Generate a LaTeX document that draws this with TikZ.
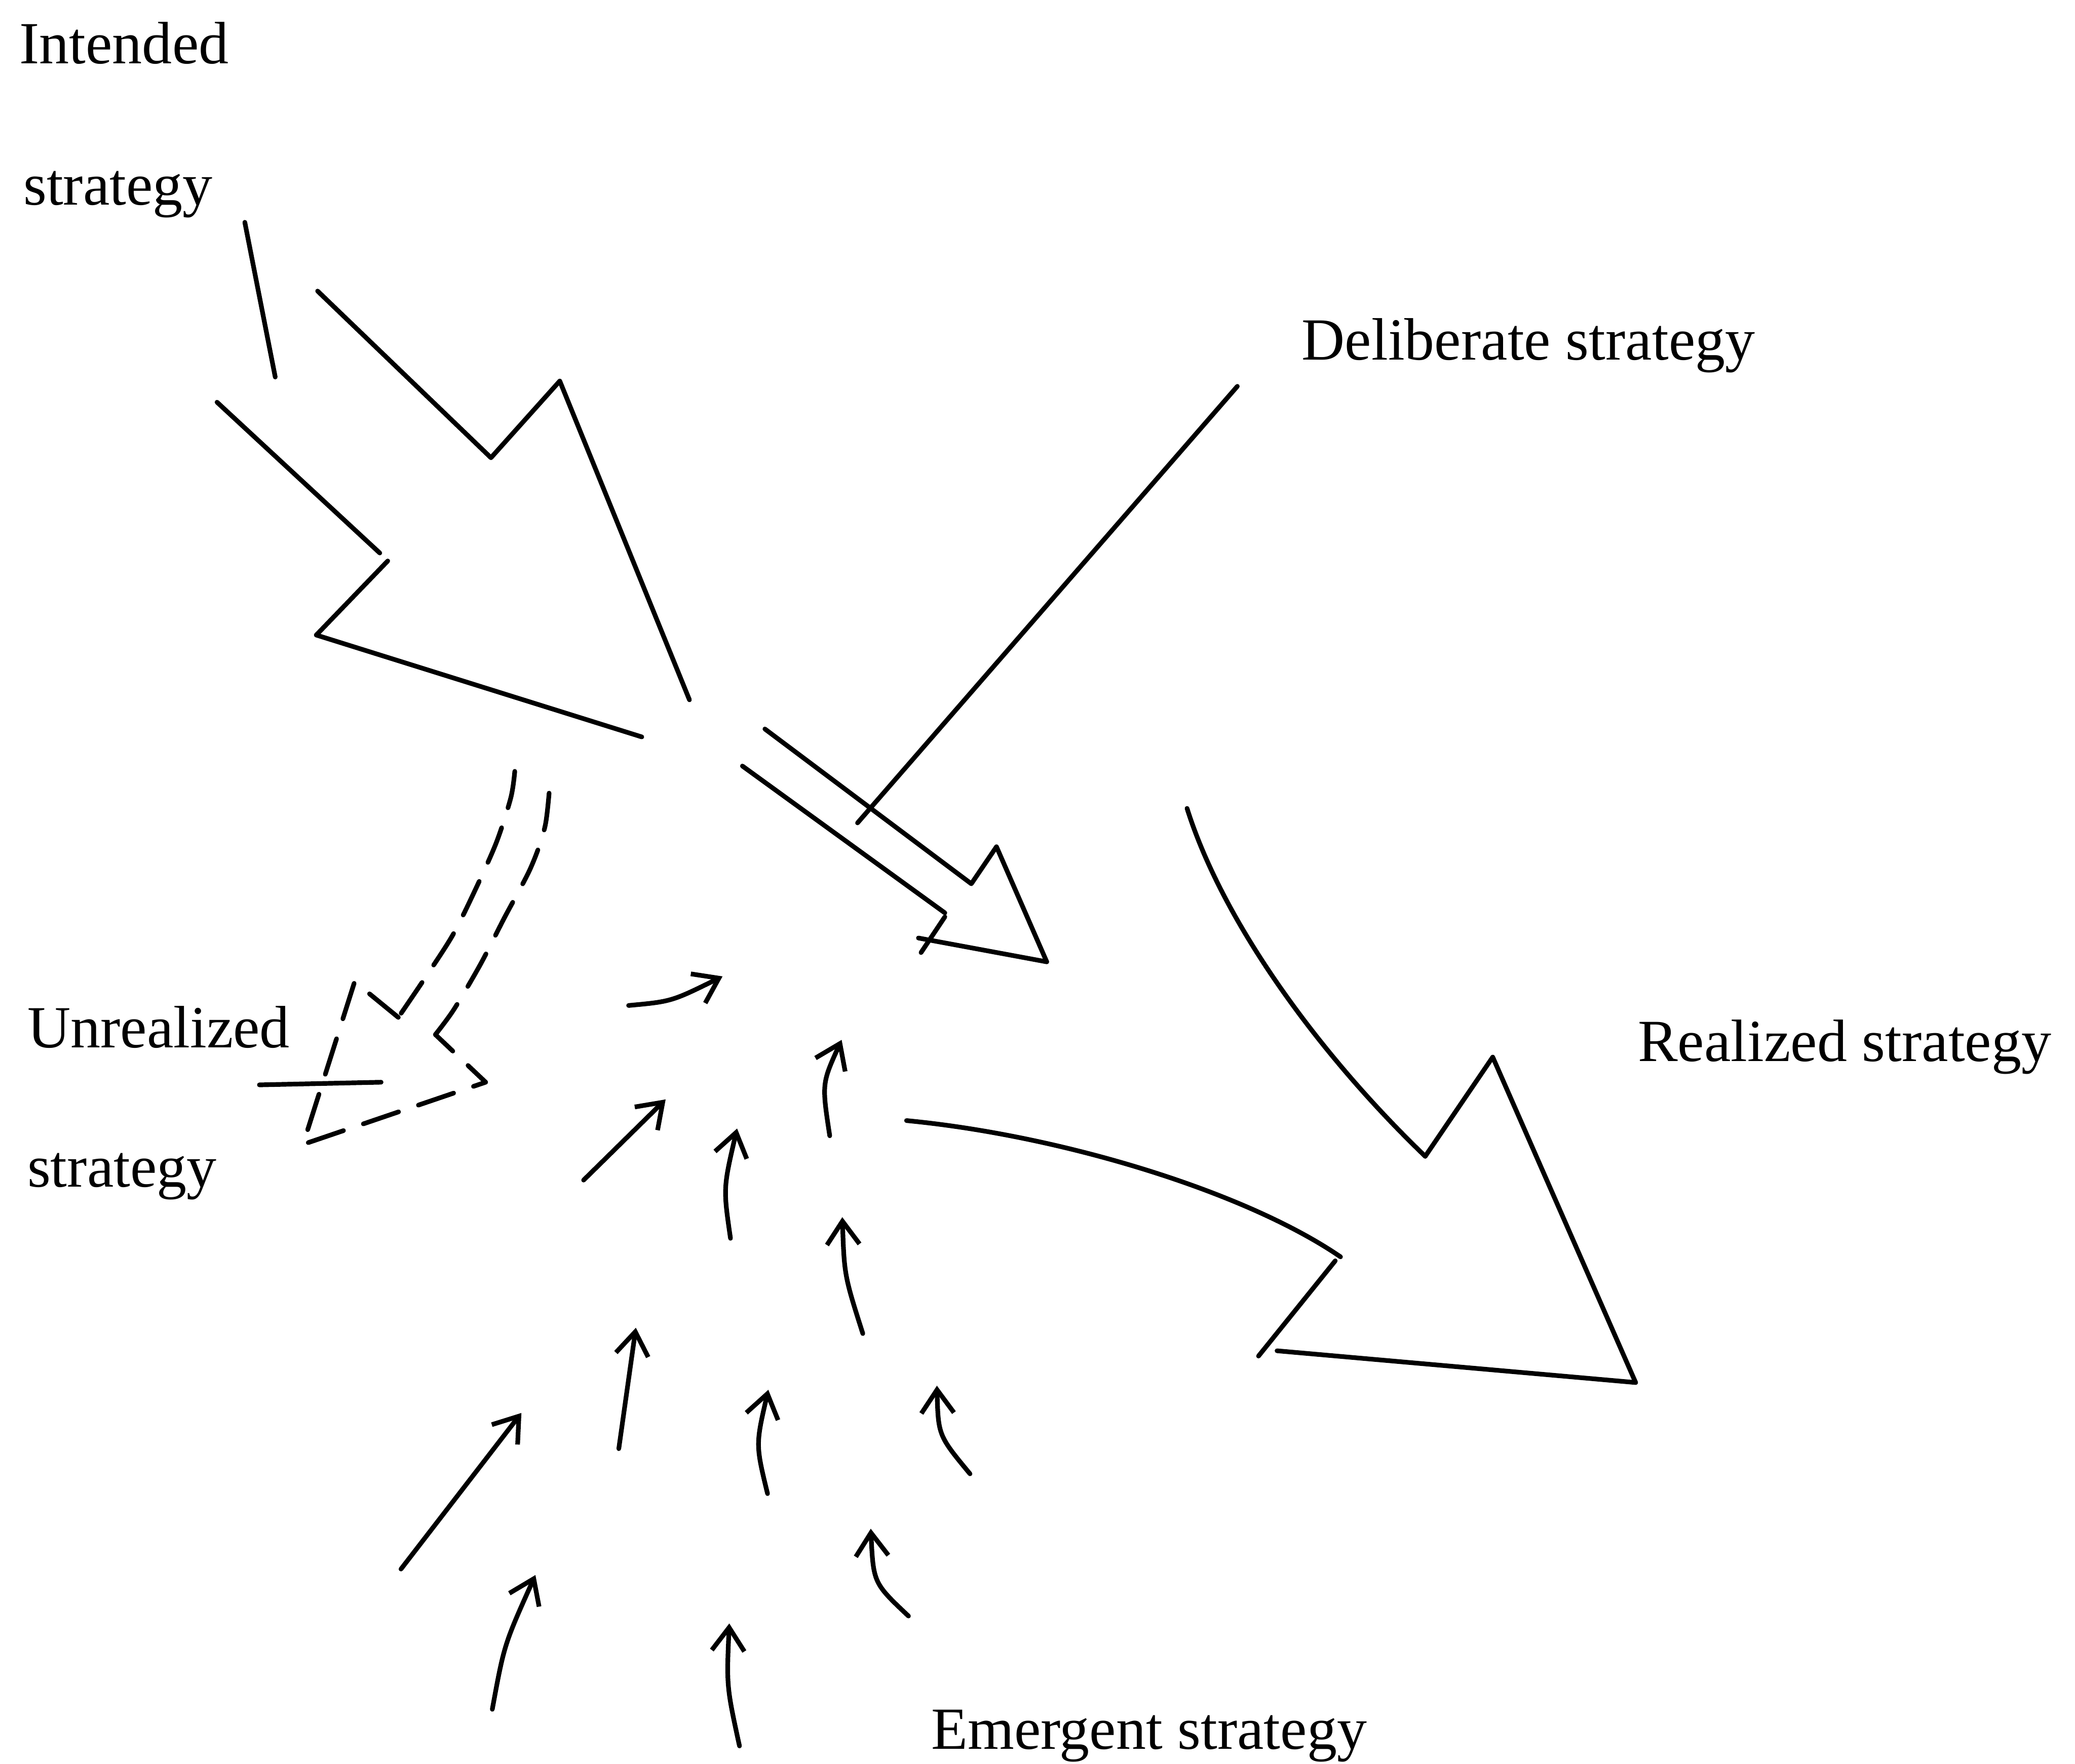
\documentclass[tikz,border=0pt]{standalone}
\usepackage{fontspec}
\setmainfont{Liberation Serif}
\usetikzlibrary{arrows.meta}
\begin{document}
\begin{tikzpicture}[x=0.01cm,y=-0.01cm,
  stroke/.style={line width=1pt, line cap=round, line join=round},
  dashline/.style={stroke, dash pattern=on 8pt off 4.5pt},
  flow/.style={stroke, -{Straight Barb[length=5pt,width=7pt]}},
  lbl/.style={anchor=base west, inner sep=0pt, font=\fontsize{12.85}{15}\selectfont}]
\useasboundingbox (0,0) rectangle (1568,1333);

% labels
\node[lbl] (intA) at (14,48) {Intended};
\node[lbl] (intB) at (17,155) {strategy};
\node[lbl] (delib) at (983,272) {Deliberate strategy};
\node[lbl] (unrA) at (20,792) {Unrealized};
\node[lbl] (unrB) at (20,897) {strategy};
\node[lbl] (real) at (1237,802) {Realized strategy};
\node[lbl] (emer) at (703,1322) {Emergent strategy};

% intended strategy: broad arrow
\draw[stroke] (185,168) -- (208,285);
\draw[stroke] (240,220) -- (371,346) -- (423,288) -- (521,529);
\draw[stroke] (164,304) -- (287,418);
\draw[stroke] (293,424) -- (239,480) -- (485,557);

% deliberate strategy: pointer line and narrow arrow
\draw[stroke] (935,292) -- (648,622);
\draw[stroke] (578,551) -- (734,668) -- (753,640) -- (791,727) -- (694,709);
\draw[stroke] (561,579) -- (714,690);
\draw[stroke] (714,693) -- (696,720);

% unrealized strategy: dashed arrow
\draw[dashline] plot[smooth] coordinates {(389,583) (386,603) (375,637) (358,675) (342,707) (322,738) (301,769)};
\draw[dashline] (301,769) -- (268,742) -- (229,865) -- (367,818) -- (329,782);
\draw[dashline] plot[smooth] coordinates {(329,782) (343,763) (363,729) (381,694) (401,656) (412,624) (416,586)};
\draw[stroke] (196,820) -- (288,818);

% realized strategy: curved broad arrow
\draw[stroke] (897,611) .. controls (925,700) and (1000,800) .. (1077,874);
\draw[stroke] (1077,874) -- (1128,799) -- (1236,1045) -- (965,1021);
\draw[stroke] (685,847) .. controls (800,858) and (940,900) .. (1013,950);
\draw[stroke] (1009,953) -- (951,1025);

% emergent strategy: small arrows
\draw[flow] (475,760) .. controls (507.5,757) .. (546,738);
\draw[flow] (441,892) -- (503,831);
\draw[flow] (552,936) .. controls (546.5,898) .. (557,853);
\draw[flow] (627,858.5) .. controls (621,819) .. (636,786);
\draw[flow] (652,1008) .. controls (638,964) .. (636.5,920);
\draw[flow] (467.6,1095) -- (480.5,1003.6);
\draw[flow] (303,1186) -- (394,1068);
\draw[flow] (580,1129) .. controls (571,1092) .. (580.6,1050.5);
\draw[flow] (733,1114) .. controls (709,1085) .. (708,1047.4);
\draw[flow] (372,1292) .. controls (381,1243) .. (404.6,1190.5);
\draw[flow] (686.5,1221.5) .. controls (660,1196.5) .. (658,1155.5);
\draw[flow] (558.8,1319.7) .. controls (549,1274.6) .. (551.1,1227.1);
\end{tikzpicture}
\end{document}
